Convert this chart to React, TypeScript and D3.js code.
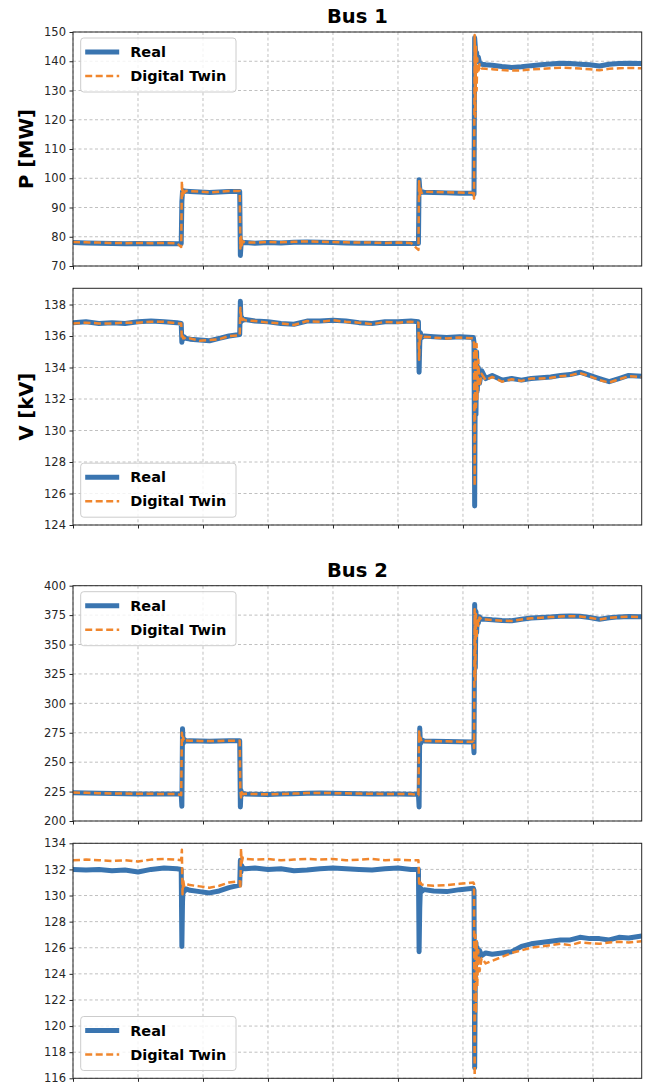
import React, { useRef, useEffect } from 'react';
import * as d3 from 'd3';

// time axis shared by all four panels (s)
const times = [
  0, 8, 16, 24, 32, 40, 48, 56, 64, 66.6,
  67.0, 67.4, 67.8, 68.4, 69.5, 72, 78, 84, 90, 96,
  102.6, 103.0, 103.4, 103.8, 104.5, 106, 112, 120, 128, 136,
  144, 152, 160, 168, 176, 184, 192, 200, 208, 212.6,
  213.0, 213.4, 213.8, 214.5, 216, 222, 230, 238, 246.4, 246.8,
  247.2, 247.6, 248.0, 248.4, 248.8, 249.4, 250.2, 251.5, 254, 258,
  264, 270, 276, 282, 288, 294, 300, 306, 312, 318,
  324, 330, 336, 342, 350,
];

const bus1P_real = [
  78.0, 77.9, 77.8, 77.7, 77.6, 77.7, 77.6, 77.7, 77.6, 77.6,
  92.0, 95.5, 95.8, 95.4, 95.6, 95.5, 95.3, 95.1, 95.3, 95.5,
  95.5, 73.6, 77.0, 78.4, 77.9, 78.0, 77.8, 78.0, 77.9, 78.1,
  78.2, 78.1, 78.0, 77.9, 77.8, 77.8, 77.7, 77.8, 77.7, 77.7,
  99.5, 96.5, 95.0, 95.4, 95.2, 95.1, 95.0, 94.9, 94.9, 94.5,
  148.0, 145.0, 141.0, 143.0, 140.0, 141.5, 139.5, 139.0, 138.8, 138.6,
  138.2, 137.9, 138.1, 138.5, 138.8, 139.1, 139.3, 139.2, 139.0, 138.8,
  138.4, 139.0, 139.2, 139.3, 139.2,
];
const bus1P_twin = [
  78.2, 78.1, 78.0, 77.9, 77.8, 77.9, 77.8, 77.9, 77.8, 76.5,
  99.0, 94.0, 96.5, 95.0, 95.7, 95.6, 95.4, 95.2, 95.4, 95.6,
  95.6, 76.0, 80.0, 77.0, 78.4, 78.1, 78.0, 78.2, 78.1, 78.3,
  78.4, 78.3, 78.2, 78.1, 78.0, 78.0, 77.9, 78.0, 77.9, 75.5,
  99.0, 94.0, 96.5, 95.0, 95.4, 95.3, 95.2, 95.1, 95.0, 93.0,
  149.0, 121.0, 145.0, 130.0, 141.0, 136.0, 139.0, 137.5, 137.4, 137.3,
  137.0, 136.8, 136.9, 137.2, 137.4, 137.6, 137.8, 137.7, 137.5, 137.3,
  136.9, 137.4, 137.6, 137.7, 137.6,
];

const bus1V_real = [
  136.85, 136.9, 136.8, 136.85, 136.8, 136.9, 136.95, 136.9, 136.85, 136.8,
  135.6, 136.0, 135.8, 135.95, 135.85, 135.8, 135.75, 135.7, 135.85, 136.0,
  136.1, 138.2, 136.9, 137.2, 137.0, 137.05, 136.95, 136.9, 136.8, 136.75,
  136.95, 136.95, 137.0, 136.95, 136.85, 136.8, 136.9, 136.9, 136.95, 136.9,
  133.7, 135.5, 136.2, 135.9, 136.0, 135.95, 135.9, 135.95, 135.9, 135.6,
  125.2, 134.5, 131.0, 135.0, 132.5, 134.0, 133.0, 133.8, 133.3, 133.5,
  133.2, 133.3, 133.2, 133.3, 133.35, 133.4, 133.5, 133.55, 133.7, 133.5,
  133.3, 133.1, 133.3, 133.5, 133.45,
];
const bus1V_twin = [
  136.8, 136.85, 136.8, 136.8, 136.85, 136.85, 136.9, 136.9, 136.8, 136.8,
  135.8, 136.0, 135.85, 135.9, 135.8, 135.85, 135.7, 135.75, 135.8, 136.0,
  136.05, 137.8, 137.2, 136.9, 137.1, 137.0, 136.95, 136.85, 136.8, 136.7,
  136.95, 136.9, 137.0, 136.9, 136.85, 136.75, 136.9, 136.85, 136.9, 136.85,
  134.5, 136.0, 135.8, 136.1, 135.95, 135.9, 135.85, 135.9, 135.85, 135.5,
  126.5, 135.5, 131.5, 135.5, 132.0, 134.5, 132.8, 133.6, 133.2, 133.4,
  133.1, 133.25, 133.15, 133.3, 133.3, 133.35, 133.45, 133.5, 133.65, 133.45,
  133.2, 133.05, 133.25, 133.45, 133.4,
];

const bus2P_real = [
  224.0, 223.8, 223.5, 223.3, 223.2, 223.0, 223.0, 222.9, 222.9, 222.9,
  212.5, 278.5, 266.0, 269.5, 268.0, 268.2, 268.0, 267.8, 268.0, 268.2,
  268.2, 212.0, 226.0, 222.0, 223.5, 223.0, 222.8, 222.6, 222.9, 223.2,
  223.6, 223.8, 223.6, 223.4, 223.2, 223.0, 222.9, 222.9, 222.8, 222.8,
  212.0, 279.0, 265.5, 269.0, 268.0, 267.8, 267.6, 267.3, 267.2, 258.0,
  384.0, 330.0, 378.0, 360.0, 374.0, 368.0, 373.5, 371.5, 371.5, 371.0,
  370.5, 370.2, 371.5, 372.5, 373.0, 373.5, 374.0, 374.3, 374.0, 373.0,
  371.5, 372.8, 373.5, 373.8, 373.6,
];
const bus2P_twin = [
  224.2, 224.0, 223.6, 223.4, 223.3, 223.1, 223.1, 223.0, 223.0, 222.0,
  275.0, 268.0, 271.0, 267.5, 268.5, 268.3, 268.1, 267.9, 268.1, 268.3,
  268.3, 226.0, 220.0, 224.5, 222.8, 223.1, 222.9, 222.7, 223.0, 223.3,
  223.7, 223.9, 223.7, 223.5, 223.3, 223.1, 223.0, 223.0, 222.9, 222.0,
  276.0, 268.0, 271.0, 267.5, 268.1, 267.9, 267.7, 267.4, 267.3, 262.0,
  380.0, 320.0, 376.0, 355.0, 373.0, 366.0, 373.0, 371.2, 371.3, 370.8,
  370.3, 370.0, 371.3, 372.3, 372.8, 373.3, 373.8, 374.1, 373.8, 372.8,
  371.3, 372.6, 373.3, 373.6, 373.4,
];

const bus2V_real = [
  132.0, 131.95, 132.0, 131.9, 131.95, 131.8, 132.0, 132.1, 132.05, 132.0,
  126.1, 129.5, 130.6, 130.3, 130.5, 130.4, 130.3, 130.2, 130.35, 130.6,
  130.8, 132.7, 131.8, 132.3, 132.1, 132.05, 132.1, 132.0, 132.05, 131.9,
  131.95, 132.05, 132.1, 132.05, 132.0, 131.95, 132.05, 132.1, 132.0, 132.0,
  125.7, 129.0, 130.6, 130.3, 130.45, 130.35, 130.3, 130.45, 130.55, 130.4,
  116.8, 124.0, 126.4, 124.8, 126.0, 125.2, 125.8, 125.4, 125.6, 125.5,
  125.6, 125.7, 126.1, 126.3, 126.4, 126.5, 126.6, 126.6, 126.8, 126.7,
  126.7, 126.6, 126.8, 126.75, 126.9,
];
const bus2V_twin = [
  132.7, 132.75, 132.7, 132.65, 132.7, 132.6, 132.75, 132.8, 132.75, 132.7,
  133.5, 130.1, 131.2, 130.7, 130.9, 130.8, 130.7, 130.6, 130.75, 131.0,
  131.1, 130.5, 133.6, 132.5, 132.9, 132.8, 132.75, 132.8, 132.7, 132.75,
  132.8, 132.75, 132.8, 132.7, 132.75, 132.8, 132.7, 132.75, 132.7, 132.7,
  131.0, 130.7, 131.0, 130.85, 130.8, 130.75, 130.8, 130.9, 131.0, 130.9,
  115.8, 127.0, 121.0, 126.5, 123.0, 125.8, 124.2, 125.2, 124.8, 125.0,
  125.3, 125.6, 125.8, 126.0, 126.1, 126.2, 126.3, 126.2, 126.4, 126.35,
  126.3, 126.4, 126.45, 126.4, 126.5,
];

const xTicks = [0, 40, 80, 120, 160, 200, 240, 280, 320];
const bus1PTicks = [70, 80, 90, 100, 110, 120, 130, 140, 150];
const bus1VTicks = [124, 126, 128, 130, 132, 134, 136, 138];
const bus2PTicks = [200, 225, 250, 275, 300, 325, 350, 375, 400];
const bus2VTicks = [116, 118, 120, 122, 124, 126, 128, 130, 132, 134];

const BLUE = '#3a75b0';
const ORANGE = '#f0862d';
const FONT = 'DejaVu Sans, sans-serif';

const panels = [
  { real: bus1P_real, twin: bus1P_twin, domain: [70, 150], ticks: bus1PTicks, top: 32, bottom: 266, ylabel: 'P [MW]', title: 'Bus 1', legend: 'top' },
  { real: bus1V_real, twin: bus1V_twin, domain: [124, 139.03], ticks: bus1VTicks, top: 288.3, bottom: 525, ylabel: 'V [kV]', title: null, legend: 'bottom' },
  { real: bus2P_real, twin: bus2P_twin, domain: [200, 400], ticks: bus2PTicks, top: 585.7, bottom: 821, ylabel: null, title: 'Bus 2', legend: 'top' },
  { real: bus2V_real, twin: bus2V_twin, domain: [116, 134], ticks: bus2VTicks, top: 843.3, bottom: 1078.3, ylabel: null, title: null, legend: 'bottom' },
];

const App = () => {
  const svgRef = useRef(null);

  useEffect(() => {
    const svg = d3.select(svgRef.current);
    svg.selectAll('*').remove();

    const left = 73;
    const right = 641.7;
    const x = d3.scaleLinear().domain([0, 350]).range([left, right]);
    const defs = svg.append('defs');

    panels.forEach((p, i) => {
      const y = d3.scaleLinear().domain(p.domain).range([p.bottom, p.top]);
      const g = svg.append('g');

      defs.append('clipPath').attr('id', `clip${i}`)
        .append('rect')
        .attr('x', left).attr('y', p.top)
        .attr('width', right - left).attr('height', p.bottom - p.top);

      // grid
      g.append('g').selectAll('line').data(xTicks).join('line')
        .attr('x1', d => x(d)).attr('x2', d => x(d))
        .attr('y1', p.top).attr('y2', p.bottom)
        .attr('stroke', '#b0b0b0').attr('stroke-width', 0.8)
        .attr('stroke-dasharray', '3,2.5');
      g.append('g').selectAll('line').data(p.ticks).join('line')
        .attr('x1', left).attr('x2', right)
        .attr('y1', d => y(d)).attr('y2', d => y(d))
        .attr('stroke', '#b0b0b0').attr('stroke-width', 0.8)
        .attr('stroke-dasharray', '3,2.5');

      const line = d3.line<number>()
        .x((d, j) => x(times[j]))
        .y(d => y(d));

      const plot = g.append('g').attr('clip-path', `url(#clip${i})`);
      plot.append('path')
        .attr('d', line(p.real))
        .attr('fill', 'none')
        .attr('stroke', BLUE)
        .attr('stroke-width', 5)
        .attr('stroke-linejoin', 'round')
        .attr('stroke-linecap', 'round');
      plot.append('path')
        .attr('d', line(p.twin))
        .attr('fill', 'none')
        .attr('stroke', ORANGE)
        .attr('stroke-width', 2.5)
        .attr('stroke-dasharray', '7,3.5')
        .attr('stroke-linejoin', 'round');

      // axes
      const yAxis = g.append('g')
        .attr('transform', `translate(${left},0)`)
        .call(d3.axisLeft(y).tickValues(p.ticks).tickSize(3.5).tickPadding(3.5).tickFormat(d3.format('d')));
      yAxis.select('.domain').remove();
      yAxis.selectAll('text')
        .attr('font-family', FONT).attr('font-size', 11.5).attr('fill', '#262626');
      yAxis.selectAll('line').attr('stroke', '#262626');

      const xAxis = g.append('g')
        .attr('transform', `translate(0,${p.bottom})`)
        .call(d3.axisBottom(x).tickValues(xTicks).tickSize(3.5).tickFormat(() => ''));
      xAxis.select('.domain').remove();
      xAxis.selectAll('line').attr('stroke', '#262626');

      g.append('rect')
        .attr('x', left).attr('y', p.top)
        .attr('width', right - left).attr('height', p.bottom - p.top)
        .attr('fill', 'none').attr('stroke', '#262626').attr('stroke-width', 1);

      if (p.title) {
        g.append('text')
          .attr('x', (left + right) / 2)
          .attr('y', p.top - 9)
          .attr('text-anchor', 'middle')
          .attr('font-family', FONT)
          .attr('font-weight', 'bold')
          .attr('font-size', 19.5)
          .attr('fill', '#000')
          .text(p.title);
      }

      if (p.ylabel) {
        g.append('text')
          .attr('transform', `translate(33,${(p.top + p.bottom) / 2}) rotate(-90)`)
          .attr('text-anchor', 'middle')
          .attr('font-family', FONT)
          .attr('font-weight', 'bold')
          .attr('font-size', 19.5)
          .attr('fill', '#000')
          .text(p.ylabel);
      }

      // legend
      const boxTop = p.legend === 'top' ? p.top + 6 : p.bottom - 7.8 - 54;
      const lg = g.append('g').attr('transform', `translate(80.7,${boxTop})`);
      lg.append('rect')
        .attr('width', 155.3).attr('height', 54).attr('rx', 3)
        .attr('fill', '#fff').attr('fill-opacity', 0.8)
        .attr('stroke', '#cccccc').attr('stroke-width', 1);
      const items = [
        { label: 'Real', color: BLUE, width: 5, dash: null },
        { label: 'Digital Twin', color: ORANGE, width: 2.5, dash: '7,3.5' },
      ];
      items.forEach((it, k) => {
        const yy = 14 + k * 24;
        lg.append('line')
          .attr('x1', 4.5).attr('x2', 38.5)
          .attr('y1', yy).attr('y2', yy)
          .attr('stroke', it.color).attr('stroke-width', it.width)
          .attr('stroke-dasharray', it.dash);
        lg.append('text')
          .attr('x', 49.5).attr('y', yy + 5)
          .attr('font-family', FONT).attr('font-weight', 'bold')
          .attr('font-size', 14.5).attr('fill', '#000')
          .text(it.label);
      });
    });
  }, []);

  return (
    <svg ref={svgRef} width={647} height={1085}
      style={{ position: 'absolute', left: 0, top: 0, background: '#fff' }} />
  );
};

export default App;
